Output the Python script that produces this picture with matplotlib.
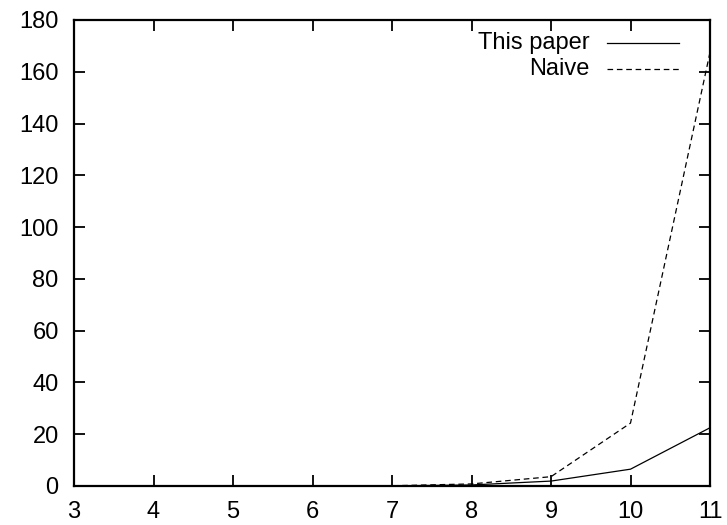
import numpy as np
import matplotlib
matplotlib.use("Agg")
import matplotlib.pyplot as plt

# Data
n = [3, 4, 5, 6, 7, 8, 9, 10, 11]
this_paper = [0.0, 0.0, 0.0, 0.0, 0.05, 0.4, 1.9, 6.5, 22.5]
naive = [0.0, 0.0, 0.0, 0.0, 0.1, 0.8, 3.6, 24.3, 167.5]
labels = ["This paper", "Naive"]
styles = [dict(linestyle='-'), dict(dashes=(4.5, 3))]

plt.rcParams['font.family'] = ['Liberation Sans', 'DejaVu Sans']
fs = 17

fig = plt.figure(figsize=(7.27, 5.25), dpi=100)
ax = fig.add_axes([74/727, 39/525, 636/727, 466/525])

for ys, st in zip([this_paper, naive], styles):
    ax.plot(n, ys, color='black', lw=0.9, **st)

ax.set_xlim(3, 11)
ax.set_ylim(0, 180)
ax.set_xticks(np.arange(3, 12, 1))
ax.set_yticks(np.arange(0, 181, 20))
ax.tick_params(direction='in', length=8, width=1.3, labelsize=fs,
               top=True, right=True, pad=11)
ax.tick_params(axis='x', pad=11)
for s in ax.spines.values():
    s.set_linewidth(1.6)

# gnuplot-style legend: right-aligned text, sample on the right
for i, (lab, st) in enumerate(zip(labels, styles)):
    y = 0.9506 - i * 0.0558
    ax.text(0.811, y, lab, transform=ax.transAxes, ha='right', va='center',
            fontsize=fs)
    ax.plot([0.838, 0.951], [y, y], transform=ax.transAxes, color='black',
            lw=0.9, **st)

fig.savefig("out.png", dpi=100)
